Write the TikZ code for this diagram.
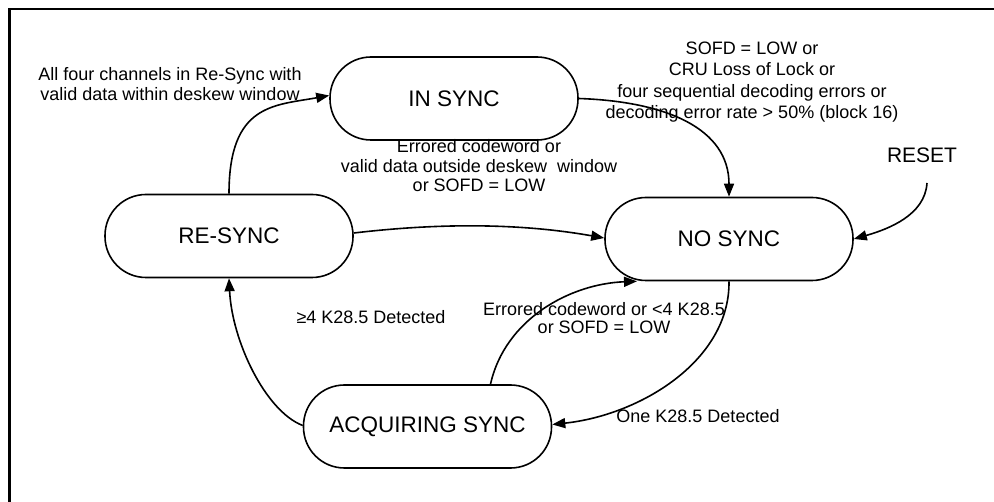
\documentclass[tikz,border=0pt]{standalone}
\usepackage{fontspec}
\setmainfont{Liberation Sans}
\usetikzlibrary{arrows.meta}
\begin{document}
\begin{tikzpicture}[x=1pt,y=-1pt,
  state/.style={draw,line width=1.6pt,rectangle,rounded corners=41pt,minimum width=248pt,minimum height=83pt,inner sep=0pt,font=\fontsize{22.5}{24}\selectfont},
  lbl/.style={inner sep=0pt,align=center,font=\fontsize{18}{20}\selectfont},
  trans/.style={line width=1.6pt,-{Triangle[length=13pt,width=10pt]}},
  frameline/.style={line width=2.5pt,line cap=rect}]
\useasboundingbox (0,0) rectangle (994,502);
% frame
\draw[frameline] (9.5,502) -- (9.5,9) -- (994,9);
% states
\node[state] (is) at (454,98.5) {IN SYNC};
\node[state] (rs) at (229,236) {RE-SYNC};
\node[state] (ns) at (729,239) {NO SYNC};
\node[state] (aq) at (427.5,426.5) {ACQUIRING SYNC};
% labels
\node[lbl] (l1) at (170,84) {All four channels in Re-Sync with\\valid data within deskew window};
\node[lbl,font=\fontsize{18}{21.5}\selectfont] (l2) at (752,82) {SOFD = LOW or\\CRU Loss of Lock or\\four sequential decoding errors or\\decoding error rate > 50\% (block 16)};
\node[inner sep=0pt,font=\fontsize{21}{24}\selectfont] (reset) at (922,155) {RESET};
\node[lbl,font=\fontsize{18}{19.5}\selectfont] (l3) at (479,166) {Errored codeword or\\valid data outside deskew~ window\\or SOFD = LOW};
\node[lbl,anchor=base] (l4) at (371,324) {≥4 K28.5 Detected};
\node[lbl,font=\fontsize{18}{18.5}\selectfont] (l5) at (604,318) {Errored codeword or <4 K28.5\\or SOFD = LOW};
\node[lbl,anchor=base] (l6) at (698,423) {One K28.5 Detected};
\coordinate (r0) at (927,183);
% transitions
\draw[trans] (rs.north) .. controls +(0,-90) and +(-55,10) .. ([yshift=3pt]is.west);
\draw[trans] (is.east) .. controls +(88,3) and +(0,-68) .. (ns.north);
\draw[trans] ([yshift=3pt]rs.east) .. controls +(85,-10) and +(-85,-15) .. ([yshift=1pt]ns.west);
\draw[trans] (r0) .. controls +(-2,32) and +(35,-10) .. (ns.east);
\draw[trans] (ns.south) .. controls +(1,79) and +(88.5,-9.5) .. ([yshift=2pt]aq.east);
\draw[trans] ([xshift=63pt]aq.north) .. controls +(14.5,-65) and +(-67,2.5) .. ([xshift=-92pt]ns.south);
\draw[trans] ([yshift=1pt]aq.west) .. controls +(-37.5,-14.5) and +(3,62.5) .. (rs.south);
\end{tikzpicture}
\end{document}
